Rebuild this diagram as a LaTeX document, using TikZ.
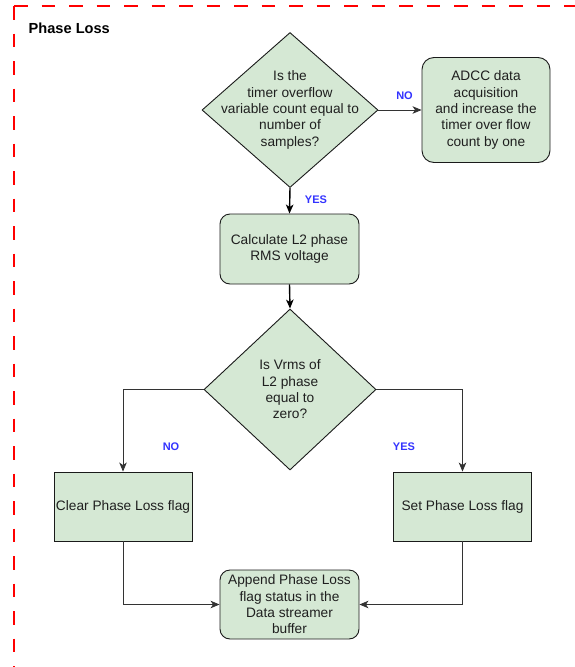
\documentclass[tikz,border=0pt]{standalone}
\usepackage{fontspec}
\setmainfont{Liberation Sans}
\usetikzlibrary{shapes.geometric,arrows.meta}
\definecolor{boxfill}{HTML}{D5E8D4}
\definecolor{lblblue}{HTML}{3333FF}
\definecolor{edge}{HTML}{1A1A1A}
\begin{document}
\begin{tikzpicture}[x=1pt,y=-1pt,
  txt/.style={font=\fontsize{13.7}{16.3}\selectfont, text=black!88, align=center},
  rbox/.style={draw=edge, fill=boxfill, line width=0.9pt, rounded corners=10pt, inner sep=0pt, txt},
  sbox/.style={draw=edge, fill=boxfill, line width=0.9pt, inner sep=0pt, txt},
  dia/.style={diamond, draw=edge, fill=boxfill, line width=0.9pt, inner sep=0pt},
  mainarr/.style={draw=black, line width=1.4pt, -{Stealth[length=9pt,width=7.5pt,inset=2.5pt]}},
  sidearr/.style={draw=black!80, line width=0.8pt, -{Stealth[length=9pt,width=7.5pt,inset=2.5pt]}},
  lbl/.style={font=\fontsize{11}{13}\selectfont\bfseries, text=lblblue},
  frame/.style={draw=red, line width=1.1pt, dash pattern=on 13.5pt off 14pt}]
\useasboundingbox (0,0) rectangle (575,667);

% dashed frame
\coordinate (fc) at (14,6);
\coordinate (fr) at (580,6);
\coordinate (fb) at (14,672);
\draw[frame] (fc) -- (fr);
\draw[frame] (fc) -- (fb);

\node[font=\fontsize{14.6}{16}\selectfont\bfseries, anchor=west, inner sep=0pt] (title) at (28.5,28) {Phase Loss};

% nodes
\node[dia, minimum width=176pt, minimum height=155pt] (d1) at (290,110) {};
\node[txt] (d1t) at (d1.center) {Is the\\timer overflow\\variable count equal to\\number of\\samples?};

\node[rbox, rounded corners=12pt, minimum width=128pt, minimum height=105pt] (adcc) at (486,110)
  {ADCC data\\acquisition\\and increase the\\timer over flow\\count by one};

\node[rbox, minimum width=139pt, minimum height=70pt] (calc) at (289.5,249)
  {Calculate L2 phase\\RMS voltage};

\node[dia, minimum width=172pt, minimum height=161pt] (d2) at (290,389.5) {};
\node[txt] (d2t) at (d2.center) {Is Vrms of\\L2 phase\\equal to\\zero?};

\node[sbox, minimum width=138pt, minimum height=69pt] (clr) at (123,506.5) {Clear Phase Loss flag};
\node[sbox, minimum width=138pt, minimum height=69pt] (set) at (462.5,506.5) {Set Phase Loss flag};

\node[rbox, minimum width=139pt, minimum height=69pt] (app) at (289.5,604.5)
  {Append Phase Loss\\flag status in the\\Data streamer\\buffer};

% connectors
\draw[sidearr] (d1.east) -- (adcc.west);
\draw[mainarr] (d1.south) -- (calc.north);
\draw[mainarr] (calc.south) -- (d2.north);
\draw[sidearr] (d2.west) -| (clr.north);
\draw[sidearr] (d2.east) -| (set.north);
\draw[sidearr] (clr.south) |- (app.west);
\draw[sidearr] (set.south) |- (app.east);

% labels
\node[lbl] (lno1) at (404.5,96) {NO};
\node[lbl] (lyes1) at (316,200) {YES};
\node[lbl] (lno2) at (171,447) {NO};
\node[lbl] (lyes2) at (404,447) {YES};
\end{tikzpicture}
\end{document}
